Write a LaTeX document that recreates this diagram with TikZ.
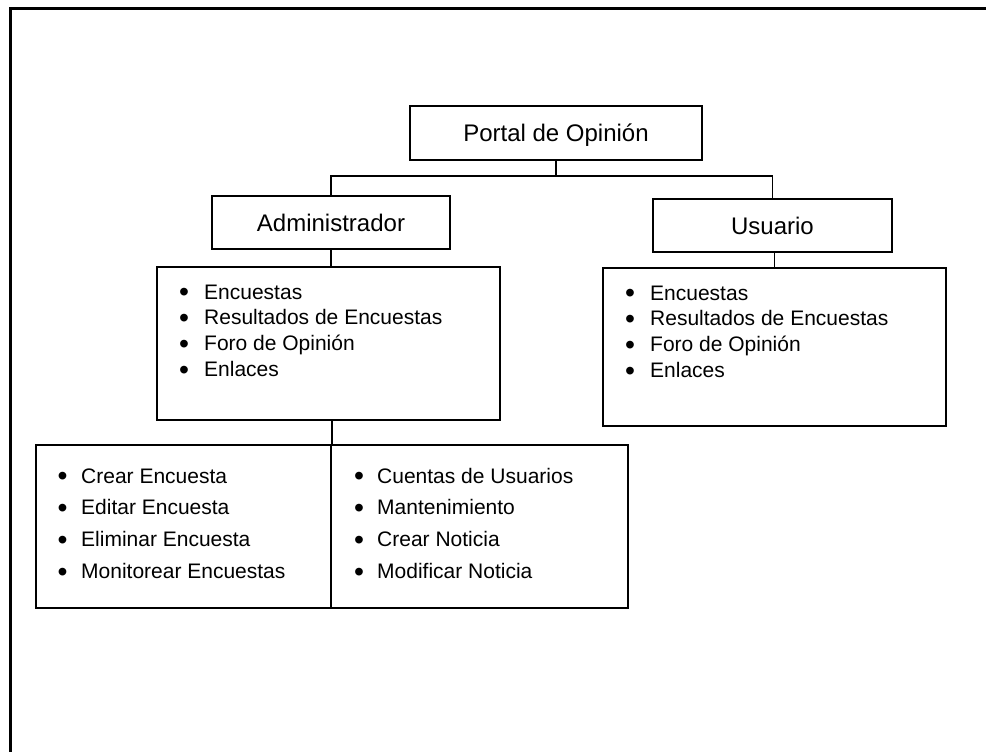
\documentclass[tikz,border=0pt]{standalone}
\usepackage{fontspec}
\setmainfont{Liberation Sans}
\newcommand{\itemdot}{\raisebox{-0.14em}{\scalebox{1.35}{•}}}

\begin{document}
\begin{tikzpicture}[x=1pt, y=-1pt,
	box/.style={draw, line width=1.8pt, inner sep=0pt, text height=17pt, text depth=0pt, font=\fontsize{24}{28}\selectfont},
	listbox/.style={draw, line width=1.8pt, inner sep=0pt},
	item/.style={anchor=base west, inner sep=0pt, font=\fontsize{21}{25}\selectfont},
	link/.style={line width=1.8pt}]
			
			\useasboundingbox (0,0) rectangle (986,752);
			\draw[line width=3pt] (10,752) -- (10,9) -- (986,9);
			
			\node[box, minimum width=292pt, minimum height=54pt] (portal) at (556,133) {Portal de Opinión};
			\node[box, minimum width=238pt, minimum height=53pt] (admin) at (331,222.5) {Administrador};
			\node[box, minimum width=239pt, minimum height=53pt] (usuario) at (772.5,225.5) {Usuario};
			
			\node[listbox, minimum width=343pt, minimum height=153pt] (adminlist) at (328.5,343.5) {};
			\node[listbox, minimum width=343pt, minimum height=158pt] (userlist) at (774.5,347) {};
			\node[listbox, minimum width=295pt, minimum height=163pt] (taskleft) at (183.5,526.5) {};
			\node[listbox, minimum width=297pt, minimum height=163pt] (taskright) at (479.5,526.5) {};
			
			\foreach \t [count=\i] in {Encuestas, Resultados de Encuestas, Foro de Opinión, Enlaces} {
				\node[item] (adm\i) at (179,{299+25.7*(\i-1)}) {\makebox[25pt][l]{\itemdot}\t};
				\node[item] (usr\i) at (625,{300+25.7*(\i-1)}) {\makebox[25pt][l]{\itemdot}\t};
			}
			\foreach \t [count=\i] in {Crear Encuesta, Editar Encuesta, Eliminar Encuesta, Monitorear Encuestas}
				\node[item] (enc\i) at (57.5,{483+31.7*(\i-1)}) {\makebox[23.5pt][l]{\itemdot}\t};
			\foreach \t [count=\i] in {Cuentas de Usuarios, Mantenimiento, Crear Noticia, Modificar Noticia}
				\node[item] (gen\i) at (354,{483+31.7*(\i-1)}) {\makebox[23pt][l]{\itemdot}\t};
			
			\coordinate (bus) at ([yshift=-15pt]portal.south);
			\draw[link] (portal.south) -- (bus);
			\draw[link] (admin.north) |- (bus) -| (usuario.north);
			\draw[link] (admin.south) -- (admin.south |- adminlist.north);
			\draw[link] (userlist.north) -- (userlist.north |- usuario.south);
			\draw[link] (taskleft.north east) -- (taskleft.north east |- adminlist.south);
		\end{tikzpicture}
\end{document}
